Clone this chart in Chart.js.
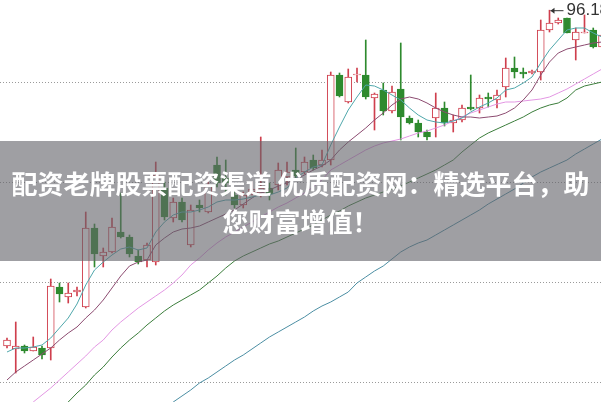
<!DOCTYPE html>
<html>
<head>
<meta charset="utf-8">
<script src="https://cdn.jsdelivr.net/npm/chart.js@4.4.0/dist/chart.umd.min.js"></script>
<style>
html, body { margin: 0; padding: 0; background: #fff; }
#wrap { position: relative; width: 601px; height: 402px; overflow: hidden; }
#banner {
    position: absolute; left: 0; top: 141px; width: 601px; height: 120px;
    background: rgba(100, 100, 106, 0.62); color: #fff;
    font: bold 26px "Noto Sans CJK SC", sans-serif; line-height: 38px;
    text-align: center; padding-top: 23px; box-sizing: border-box; white-space: nowrap;
}
</style>
</head>
<body>
<div id="wrap">
<canvas id="chart" width="601" height="402"></canvas>
<div id="banner">配资老牌股票配资渠道 优质配资网：精选平台，助<br>您财富增值！</div>
</div>
<script>
// daily candles, left to right
const opens  = [62.6, 62.3, 62.6, 62.1, 62.4, 62.4, 68.5, 67.5, 68.0, 66.5, 74.4, 71.6, 72.0, 74.0, 73.5, 71.6, 71.2, 71.0, 78.4, 75.4, 77.0, 72.7, 76.7, 76.0, 80.7, 79.4, 77.7, 76.7, 78.0, 77.9, 78.4, 78.7, 79.5, 80.2, 80.0, 81.2, 80.7, 81.2, 89.7, 87.0, 89.7, 89.7, 87.4, 88.2, 86.1, 88.3, 85.4, 84.9, 84.0, 85.4, 86.4, 84.9, 85.2, 86.5, 86.4, 87.5, 87.2, 88.5, 90.4, 90.0, 89.9, 90.0, 94.2, 94.9, 95.4, 93.2, 93.9, 94.2, 92.5]
const highs  = [63.4, 65.0, 62.7, 63.5, 62.6, 69.3, 68.9, 68.9, 68.5, 76.0, 74.8, 72.4, 75.4, 77.9, 73.7, 72.2, 72.9, 81.0, 79.0, 77.4, 77.4, 76.7, 77.2, 79.2, 81.5, 81.2, 78.2, 78.0, 79.0, 83.5, 78.9, 80.9, 81.0, 82.4, 81.5, 81.7, 82.2, 90.0, 89.9, 90.3, 90.4, 93.2, 87.9, 88.9, 88.6, 92.9, 85.6, 85.2, 84.2, 87.9, 87.0, 85.7, 86.7, 89.7, 87.7, 87.9, 88.2, 91.4, 91.5, 90.4, 90.2, 95.2, 96.18, 95.4, 95.4, 94.4, 95.7, 94.4, 93.9]
const lows   = [62.4, 59.9, 61.9, 62.1, 61.3, 61.2, 67.0, 66.9, 67.6, 66.4, 70.5, 70.5, 71.9, 73.4, 71.5, 70.8, 70.5, 70.7, 75.2, 75.0, 75.0, 72.5, 76.0, 75.9, 78.5, 77.7, 76.4, 76.4, 77.7, 77.5, 77.2, 78.2, 78.7, 79.2, 79.8, 80.2, 80.5, 80.7, 87.5, 86.9, 89.0, 87.3, 84.2, 85.7, 85.9, 83.2, 84.8, 83.5, 83.2, 83.5, 84.6, 84.0, 85.0, 86.2, 85.9, 86.5, 86.4, 87.5, 89.4, 89.4, 89.8, 89.2, 94.0, 94.8, 93.9, 91.2, 93.9, 92.4, 92.4]
const closes = [63.2, 62.6, 62.1, 62.5, 61.7, 68.6, 67.8, 67.9, 68.2, 74.4, 71.8, 72.0, 74.5, 73.5, 71.8, 71.0, 72.7, 79.7, 75.5, 77.0, 75.2, 76.2, 76.4, 78.7, 78.9, 78.9, 76.7, 77.7, 78.3, 78.4, 77.8, 80.2, 80.0, 79.6, 81.0, 80.4, 81.2, 89.7, 87.6, 89.5, 89.8, 87.5, 87.8, 86.1, 88.0, 85.5, 84.9, 84.0, 83.5, 86.4, 84.9, 85.2, 86.4, 86.3, 87.4, 87.3, 87.7, 90.4, 90.0, 89.8, 90.1, 94.2, 94.9, 95.2, 93.9, 94.0, 94.0, 92.5, 93.7]

// moving averages, each starts at the candle index given
const ma5Start = 0
const ma5  = [62.0, 62.4, 62.4, 62.5, 62.7, 63.4, 64.4, 65.4, 66.8, 68.7, 70.2, 71.0, 71.7, 72.3, 72.5, 72.2, 72.4, 74.0, 75.0, 75.7, 76.0, 76.0, 76.2, 76.5, 77.0, 77.2, 77.2, 77.3, 77.5, 77.7, 77.7, 78.0, 78.4, 79.4, 80.0, 80.5, 80.7, 82.7, 84.5, 86.2, 87.5, 88.7, 88.6, 88.2, 87.7, 87.2, 86.4, 85.7, 85.2, 85.0, 84.9, 85.1, 85.4, 86.0, 86.5, 86.9, 87.4, 88.2, 88.4, 88.9, 89.5, 90.9, 92.2, 93.2, 94.2, 94.4, 94.4, 93.9, 93.5]
const ma10Start = 0
const ma10 = [59.2, 60.0, 60.6, 61.2, 61.8, 62.4, 63.2, 63.9, 64.5, 65.4, 66.2, 67.2, 68.4, 69.6, 70.6, 71.0, 71.2, 72.7, 73.4, 74.0, 74.3, 74.4, 74.6, 75.0, 75.4, 75.8, 76.2, 76.8, 77.4, 77.9, 78.2, 78.6, 78.9, 79.3, 79.7, 80.2, 80.6, 81.2, 82.2, 83.0, 83.7, 84.4, 85.2, 85.9, 86.7, 87.3, 87.5, 87.3, 86.9, 86.4, 86.0, 85.7, 85.5, 85.5, 85.4, 85.5, 85.6, 85.9, 86.4, 87.2, 88.2, 89.7, 91.0, 91.9, 92.3, 92.5, 92.7, 92.9, 93.0]
const ma20Start = 2
const ma20 = [56.3, 57.0, 57.7, 58.4, 59.2, 60.0, 60.8, 61.6, 62.5, 63.2, 64.2, 65.0, 65.7, 66.4, 67.0, 67.6, 68.2, 68.9, 69.7, 70.7, 71.4, 72.2, 72.9, 73.5, 74.0, 74.5, 75.0, 75.5, 76.0, 76.5, 76.9, 77.4, 77.9, 78.5, 79.2, 80.2, 80.7, 81.2, 81.7, 82.2, 82.6, 82.9, 83.1, 83.3, 83.6, 83.9, 84.1, 84.4, 84.7, 85.1, 85.5, 85.9, 86.2, 86.5, 86.8, 87.0, 87.0, 87.1, 87.2, 87.3, 87.5, 87.9, 88.3, 88.8, 89.3, 89.8, 90.3]
const ma30Start = 6
const ma30 = [56.2, 57.0, 57.9, 58.7, 59.7, 60.5, 61.5, 62.4, 63.2, 63.9, 64.7, 65.4, 66.1, 66.7, 67.2, 67.7, 68.2, 68.9, 69.6, 70.4, 71.1, 71.6, 72.0, 72.4, 72.8, 73.1, 73.5, 73.9, 74.3, 74.7, 75.2, 75.7, 76.1, 76.6, 77.0, 77.4, 77.7, 78.0, 78.3, 78.6, 79.0, 79.4, 79.8, 80.2, 80.7, 81.2, 82.0, 82.7, 83.4, 83.9, 84.3, 84.7, 85.1, 85.5, 86.0, 86.4, 86.7, 86.9, 87.4, 88.2, 88.6, 88.8, 89.0]
const ma60Start = 18
const ma60 = [56.4, 57.0, 57.6, 58.2, 58.9, 59.4, 60.0, 60.6, 61.2, 61.7, 62.3, 62.9, 63.5, 64.0, 64.5, 65.0, 65.5, 66.1, 66.6, 67.0, 67.5, 68.0, 68.9, 69.5, 70.1, 70.6, 71.3, 72.0, 72.5, 72.9, 73.2, 73.7, 74.2, 74.7, 75.2, 75.7, 76.2, 76.8, 77.3, 77.8, 78.3, 78.9, 79.5, 80.0, 80.4, 80.8, 81.2, 81.8, 82.3, 82.8, 83.3]

const gridLevels = [59, 69, 79, 89]
const peakIndex = 62

const upColor = '#cf3f4d'
const downColor = '#2e8a2e'

function isUp(i) { return closes[i] >= opens[i] }

function maPoints(start, values) {
    return values.map((v, k) => ({ x: start + k, y: v }))
}

function maLine(start, values, color) {
    return {
        type: 'line',
        data: maPoints(start, values),
        borderColor: color,
        borderWidth: 1,
        pointRadius: 0,
        tension: 0,
        order: 0
    }
}

const wicks = opens.map((o, i) => ({ x: i, y: [lows[i], highs[i]] }))
const bodies = opens.map((o, i) => ({ x: i, y: [o, closes[i]] }))

const peakLabel = {
    id: 'peakLabel',
    afterDatasetsDraw(chart) {
        const ctx = chart.ctx
        const px = chart.scales.x.getPixelForValue(peakIndex)
        const py = chart.scales.y.getPixelForValue(highs[peakIndex])
        ctx.save()
        ctx.strokeStyle = '#333'
        ctx.fillStyle = '#333'
        ctx.lineWidth = 1
        ctx.beginPath()
        ctx.moveTo(px + 1, py + 0.5)
        ctx.lineTo(px + 14, py + 0.5)
        ctx.stroke()
        ctx.beginPath()
        ctx.moveTo(px + 1, py + 0.5)
        ctx.lineTo(px + 5, py - 2.5)
        ctx.lineTo(px + 5, py + 3.5)
        ctx.closePath()
        ctx.fill()
        ctx.font = '17px "Liberation Sans", Arial, sans-serif'
        ctx.textBaseline = 'middle'
        ctx.fillText(highs[peakIndex].toFixed(2), px + 17, py)
        ctx.restore()
    }
}

const ctx = document.getElementById('chart').getContext('2d')

new Chart(ctx, {
    type: 'bar',
    data: {
        datasets: [
            maLine(ma5Start, ma5, '#4fa7ab'),
            maLine(ma10Start, ma10, '#8c4b70'),
            maLine(ma20Start, ma20, '#e396e3'),
            maLine(ma30Start, ma30, '#3b7d3b'),
            maLine(ma60Start, ma60, '#4b8ea3'),
            {
                data: bodies,
                barThickness: 7,
                grouped: false,
                borderWidth: 1,
                borderSkipped: false,
                borderColor: (c) => isUp(c.dataIndex) ? upColor : downColor,
                backgroundColor: (c) => isUp(c.dataIndex) ? '#ffffff' : downColor,
                order: 1
            },
            {
                data: wicks,
                barThickness: 1,
                grouped: false,
                borderWidth: 0,
                backgroundColor: (c) => isUp(c.dataIndex) ? upColor : downColor,
                order: 2
            }
        ]
    },
    options: {
        responsive: false,
        animation: false,
        layout: { padding: 0 },
        plugins: {
            legend: { display: false },
            tooltip: { enabled: false }
        },
        scales: {
            x: {
                type: 'linear',
                offset: false,
                min: -0.8,
                max: 67.886,
                display: false
            },
            y: {
                min: 57.0,
                max: 97.2,
                ticks: { display: false },
                grid: { color: '#9a9a9a', drawTicks: false, lineWidth: 1 },
                border: { display: false, dash: [1, 2] },
                afterBuildTicks: (scale) => {
                    scale.ticks = gridLevels.map(v => ({ value: v }))
                }
            }
        }
    },
    plugins: [peakLabel]
})
</script>
</body>
</html>
